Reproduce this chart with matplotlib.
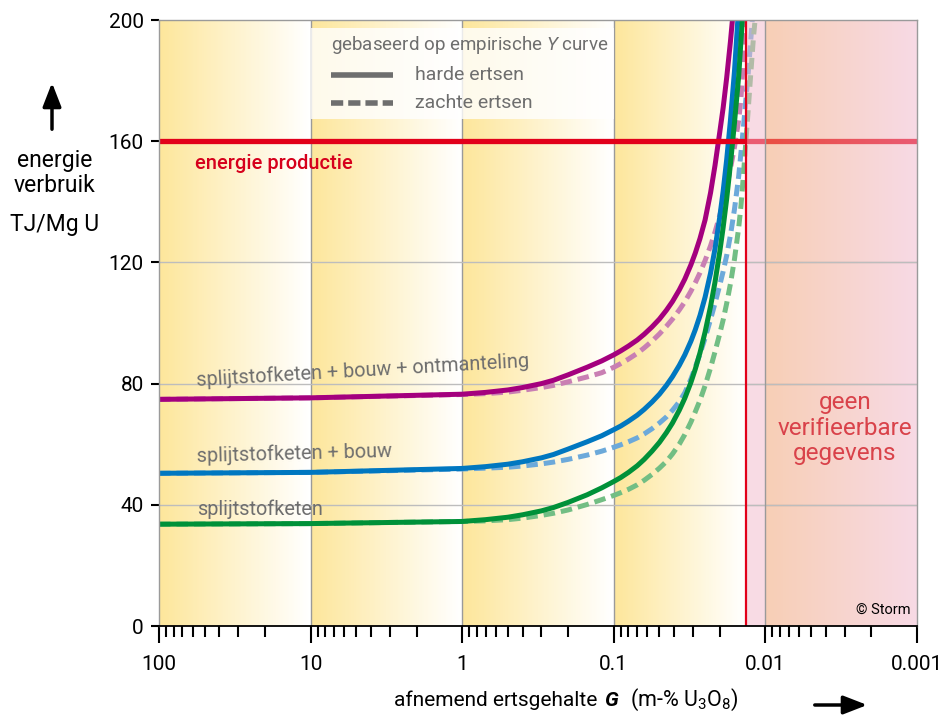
import numpy as np
import matplotlib.pyplot as plt
from matplotlib.colors import LinearSegmentedColormap, to_rgb
from matplotlib.patches import FancyArrowPatch
from matplotlib.ticker import LogLocator, NullFormatter

plt.rcParams['font.family'] = ['Roboto', 'DejaVu Sans']
plt.rcParams['mathtext.fontset'] = 'custom'
plt.rcParams['mathtext.rm'] = 'Roboto'
plt.rcParams['mathtext.it'] = 'Roboto:italic'
plt.rcParams['mathtext.bf'] = 'Roboto:bold'

# ore grade G (m-% U3O8) and energy use (TJ/Mg U)
g_common = [100, 10, 1, 0.7, 0.5, 0.4, 0.3, 0.25, 0.2, 0.15, 0.12, 0.1, 0.09,
            0.08, 0.07, 0.063, 0.056, 0.05, 0.045, 0.041, 0.037, 0.034, 0.031,
            0.029, 0.027, 0.025, 0.023, 0.0215, 0.02, 0.019, 0.018, 0.017]

# splijtstofketen + bouw + ontmanteling
g_mag_hard = g_common + [0.0165]
e_mag_hard = [74.8, 75.3, 76.5, 77.1, 77.9, 78.7, 80.0, 81.1, 82.9, 85.4, 87.5,
              89.5, 90.8, 92.4, 94.4, 96.3, 98.7, 101.3, 104.2, 107.1, 110.9,
              114.5, 119.2, 123.1, 127.9, 134.0, 143, 152, 163, 171, 181, 193,
              200]
g_mag_soft = g_common + [0.016, 0.015, 0.0145, 0.014, 0.0137]
e_mag_soft = [74.8, 75.3, 76.4, 76.7, 77.2, 77.8, 78.7, 79.4, 80.6, 82.2, 83.6,
              85.4, 86.6, 88.1, 90.0, 91.8, 94.0, 96.4, 98.9, 101.3, 104.3,
              107.0, 110.5, 113.3, 116.6, 120.6, 125.5, 130, 135.5, 139.8, 145,
              151, 158, 167, 174, 186, 200]

# splijtstofketen + bouw
g_blue_hard = g_common + [0.016, 0.0152]
e_blue_hard = [50.4, 50.7, 52.0, 52.6, 53.4, 54.2, 55.5, 56.6, 58.4, 60.8, 62.8,
               64.8, 66.0, 67.6, 69.6, 71.5, 73.9, 76.5, 79.4, 82.3, 86.0,
               89.5, 94.0, 97.8, 102.5, 108.5, 116.5, 124.5, 135, 143.5, 154,
               167, 183, 200]
g_blue_soft = g_common + [0.016, 0.015, 0.014, 0.013, 0.0122]
e_blue_soft = [50.4, 50.7, 51.8, 52.1, 52.4, 52.8, 53.5, 54.1, 55.0, 56.4, 57.7,
               59.0, 59.8, 60.8, 62.1, 63.4, 65.1, 67.0, 69.0, 71.2, 74.0,
               77.0, 81.5, 85.4, 89.8, 95.0, 101.2, 106.5, 112.5, 117, 122.3,
               129, 137.5, 148.5, 164, 182, 200]

# splijtstofketen
g_green_hard = g_common + [0.016, 0.015, 0.0142]
e_green_hard = [33.6, 33.8, 34.5, 35.1, 35.9, 36.7, 38.0, 39.1, 40.8, 43.3, 45.6,
                47.7, 49.0, 50.7, 52.9, 55.0, 57.7, 60.6, 63.8, 67.0, 71.2,
                75.2, 80.4, 84.8, 90.2, 97.0, 105.5, 113.5, 123.5, 131.5, 141,
                152.5, 166, 181.5, 200]
g_green_soft = g_common + [0.016, 0.015, 0.0145, 0.014, 0.013, 0.0125, 0.012, 0.0117]
e_green_soft = [33.6, 33.8, 34.5, 34.7, 35.1, 35.6, 36.5, 37.2, 38.3, 40.1, 41.7,
                43.1, 44.0, 45.1, 46.6, 48.1, 50.0, 52.1, 54.3, 56.8, 60.0,
                63.2, 67.3, 70.7, 74.5, 79.3, 85.2, 90.5, 96.5, 101, 106.5,
                113, 121, 131.5, 138.5, 148, 170, 182, 194, 200]

energy_production = 160
g_limit = 0.0134
x_ticks = [100, 10, 1, 0.1, 0.01, 0.001]
x_labels = ['100', '10', '1', '0.1', '0.01', '0.001']
y_ticks = [0, 40, 80, 120, 160, 200]

W, H = 951, 718
fig = plt.figure(figsize=(W / 100, H / 100), dpi=100)
ax = fig.add_axes([159 / W, 1 - 626 / H, 758 / W, 606 / H])
ax.set_xscale('log')
ax.set_xlim(100, 0.001)
ax.set_ylim(0, 200)


def gradient(g0, g1, c0, c1, alpha=1.0, zorder=0):
    n = 120
    edges = np.logspace(np.log10(g0), np.log10(g1), n + 1)
    cmap = LinearSegmentedColormap.from_list('g', [c0, c1])
    ax.pcolormesh(edges, [0, 200], np.arange(n)[None, :], cmap=cmap,
                  alpha=alpha, zorder=zorder, antialiased=False,
                  edgecolors='none', shading='flat')


def under(target, a):
    t = np.array(to_rgb(target))
    return tuple(np.clip((t - (1 - a)) / a, 0, 1))


yellow = '#FDE69B'
for g0, g1 in [(100, 10), (10, 1), (1, 0.1), (0.1, g_limit)]:
    gradient(g0, g1, yellow, '#FFFFFF')

# legend box
ax.axvspan(10, 0.1, ymin=167.3 / 200, ymax=197.4 / 200, facecolor='white',
           alpha=0.8, lw=0, zorder=1.5)

grid_c = '#9A9A9A'
ax.vlines([10, 1, 0.1], 0, 200, color=grid_c, lw=1, zorder=1)
ax.hlines([40, 80, 120], 100, 0.001, color='#BDBDBD', lw=1, zorder=1)

# curves
lw = 3.6
dash = (0, (2.3, 1.2))
ax.plot(g_mag_soft, e_mag_soft, color='#C97FB3', lw=lw, ls=dash, zorder=2)
ax.plot(g_blue_soft, e_blue_soft, color='#6CA9DA', lw=lw, ls=dash, zorder=2)
ax.plot(g_green_soft, e_green_soft, color='#72BE84', lw=lw, ls=dash, zorder=2)
ax.plot(g_mag_hard, e_mag_hard, color='#A4007E', lw=lw, zorder=2.2, solid_capstyle='butt')
ax.plot(g_blue_hard, e_blue_hard, color='#0077C0', lw=lw, zorder=2.2, solid_capstyle='butt')
ax.plot(g_green_hard, e_green_hard, color='#009139', lw=lw, zorder=2.2, solid_capstyle='butt')

ax.axhline(energy_production, color='#E2001A', lw=3.8, zorder=2.6)

# region without data
a = 0.5
pink = under('#F9DCE5', a)
ax.axvspan(g_limit, 0.01, facecolor=pink, alpha=a, lw=0, zorder=3)
gradient(0.01, 0.001, under('#F8CFB6', a), under('#F8DAE5', a), alpha=a, zorder=3)
ax.hlines([40, 80, 120], g_limit, 0.001, color='#BDBDBD', lw=1, zorder=4)
ax.vlines([0.01], 0, 200, color=grid_c, lw=1, zorder=4)
ax.axvline(g_limit, color='#E2001A', lw=1.6, zorder=5)

# axes styling
for s in ['top', 'left', 'right']:
    ax.spines[s].set_color('#9A9A9A')
    ax.spines[s].set_linewidth(1)
ax.spines['bottom'].set_color('black')
ax.spines['bottom'].set_linewidth(1.3)
for s in ax.spines.values():
    s.set_zorder(6)

ax.set_xticks(x_ticks)
ax.set_xticklabels(x_labels)
ax.xaxis.set_minor_locator(LogLocator(base=10, subs=range(2, 10)))
ax.xaxis.set_minor_formatter(NullFormatter())
ax.tick_params(axis='x', which='major', length=12, width=1.5, pad=9, labelsize=15)
ax.tick_params(axis='x', which='minor', length=8, width=1.5)
ax.set_yticks(y_ticks)
ax.tick_params(axis='y', length=6, width=1.5, pad=5, labelsize=15)

txt_gray = '#6E6E6E'
ax.text(56, 79.2, 'splijtstofketen + bouw + ontmanteling', color=txt_gray,
        fontsize=14.3, rotation=3.3, rotation_mode='anchor', va='baseline', zorder=7)
ax.text(56, 54.2, 'splijtstofketen + bouw', color=txt_gray, fontsize=14.3,
        rotation=1.5, rotation_mode='anchor', va='baseline', zorder=7)
ax.text(56, 36.6, 'splijtstofketen', color=txt_gray, fontsize=14.3,
        va='baseline', zorder=7)
ax.text(58, 152.8, 'energie productie', color='#D6001C', fontsize=14.5,
        fontweight='medium', va='center', zorder=7)

# legend
ax.text(7.33, 191.7, 'gebaseerd op empirische $Y$ curve', color=txt_gray,
        fontsize=13.5, va='center', zorder=7)
ax.plot([7.33, 2.86], [181.8, 181.8], color=txt_gray, lw=4, zorder=7, solid_capstyle='butt')
ax.plot([7.33, 2.86], [172.6, 172.6], color=txt_gray, lw=4, ls=(0, (2.2, 0.9)), zorder=7)
ax.text(2.05, 181.8, 'harde ertsen', color=txt_gray, fontsize=14, va='center', zorder=7)
ax.text(2.05, 172.6, 'zachte ertsen', color=txt_gray, fontsize=14, va='center', zorder=7)

ax.text(0.00298, 65.3, 'geen\nverifieerbare\ngegevens', color='#D9424A',
        fontsize=17.5, ha='center', va='center', linespacing=1.15, zorder=7)
ax.text(0.00111, 3, '© Storm', color='black', fontsize=10.5, ha='right',
        va='bottom', zorder=7)

# axis titles
fig.text(55 / W, 1 - 160 / H, 'energie', fontsize=16.5, ha='center', va='center')
fig.text(55 / W, 1 - 185 / H, 'verbruik', fontsize=16.5, ha='center', va='center')
fig.text(55 / W, 1 - 225 / H, 'TJ/Mg U', fontsize=16.5, ha='center', va='center')
fig.patches.append(FancyArrowPatch(
    (52 / W, 1 - 132 / H), (52 / W, 1 - 80 / H), transform=fig.transFigure,
    arrowstyle='-|>,head_length=0.9,head_width=0.35', mutation_scale=16,
    color='black', lw=2.5))

fig.text(597 / W, 1 - 700 / H, 'afnemend ertsgehalte', fontsize=15,
         ha='right', va='center')
fig.text(604 / W, 1 - 700 / H, 'G', fontsize=15, fontstyle='italic',
         fontweight='bold', ha='left', va='center')
fig.text(630 / W, 1 - 700 / H, '(m-% U$_3$O$_8$)', fontsize=15.5,
         ha='left', va='center')
fig.patches.append(FancyArrowPatch(
    (812 / W, 1 - 705 / H), (870 / W, 1 - 705 / H), transform=fig.transFigure,
    arrowstyle='-|>,head_length=0.9,head_width=0.35', mutation_scale=16,
    color='black', lw=2.5))

fig.savefig('out.png', dpi=100)
